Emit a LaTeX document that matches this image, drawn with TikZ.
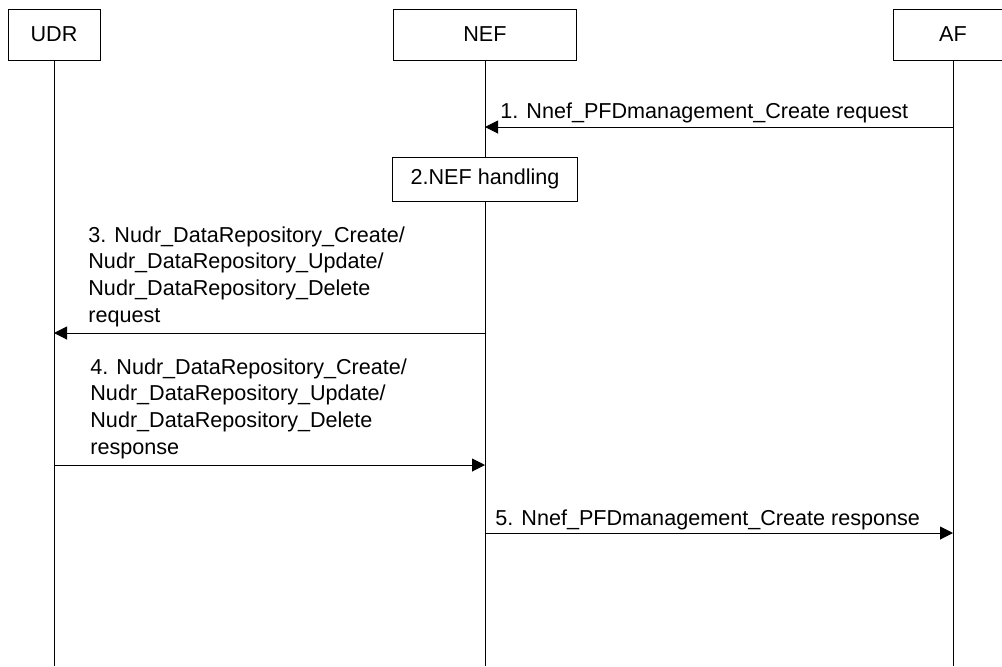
\documentclass[tikz,border=0pt]{standalone}
\usepackage{fontspec}
\setmainfont{Liberation Sans}
\usetikzlibrary{arrows.meta}
\tikzset{every picture/.style={>={Triangle[length=6.5pt,width=6.5pt]}},
  entity/.style={draw,line width=0.5pt,minimum height=25.5pt,inner sep=0pt},
  life/.style={line width=0.5pt},
  msg/.style={->,line width=0.5pt},
  label/.style={inner sep=0pt,align=left}}

\begin{document}
\begin{tikzpicture}[x=0.5pt,y=-0.5pt,font=\fontsize{10.8}{13.35}\selectfont]
  \useasboundingbox (0,0) rectangle (1002,666);
  \node[entity,minimum width=46pt] (udr) at (54,34.5) {UDR};
  \node[entity,minimum width=91.5pt] (nef) at (485,34.5) {NEF};
  \node[entity,minimum width=60pt] (af) at (953,34.5) {AF};
  \coordinate (bot) at (0,666);
  \coordinate (m1) at (0,127);
  \coordinate (m3) at (0,333);
  \coordinate (m4) at (0,465);
  \coordinate (m5) at (0,533);
  \draw [life] (udr) -- (udr |- bot);
  \draw [life] (nef) -- (nef |- bot);
  \draw [life] (af) -- (af |- bot);
  \node[entity,fill=white,minimum width=92.5pt,minimum height=22pt] (hdl) at (485,179) {2.NEF handling};
  \draw [msg] (af |- m1) -- (nef |- m1);
  \node[label,anchor=base west] (l1) at (500,118) {1. Nnef\_PFDmanagement\_Create request};
  \draw [msg] (nef |- m3) -- (udr |- m3);
  \node[label,anchor=south west] (l3) at (88,327) {3. Nudr\_DataRepository\_Create/\\Nudr\_DataRepository\_Update/\\Nudr\_DataRepository\_Delete\\request};
  \draw [msg] (udr |- m4) -- (nef |- m4);
  \node[label,anchor=south west] (l4) at (90,459) {4. Nudr\_DataRepository\_Create/\\Nudr\_DataRepository\_Update/\\Nudr\_DataRepository\_Delete\\response};
  \draw [msg] (nef |- m5) -- (af |- m5);
  \node[label,anchor=base west] (l5) at (495,525) {5. Nnef\_PFDmanagement\_Create response};
\end{tikzpicture}
\end{document}
